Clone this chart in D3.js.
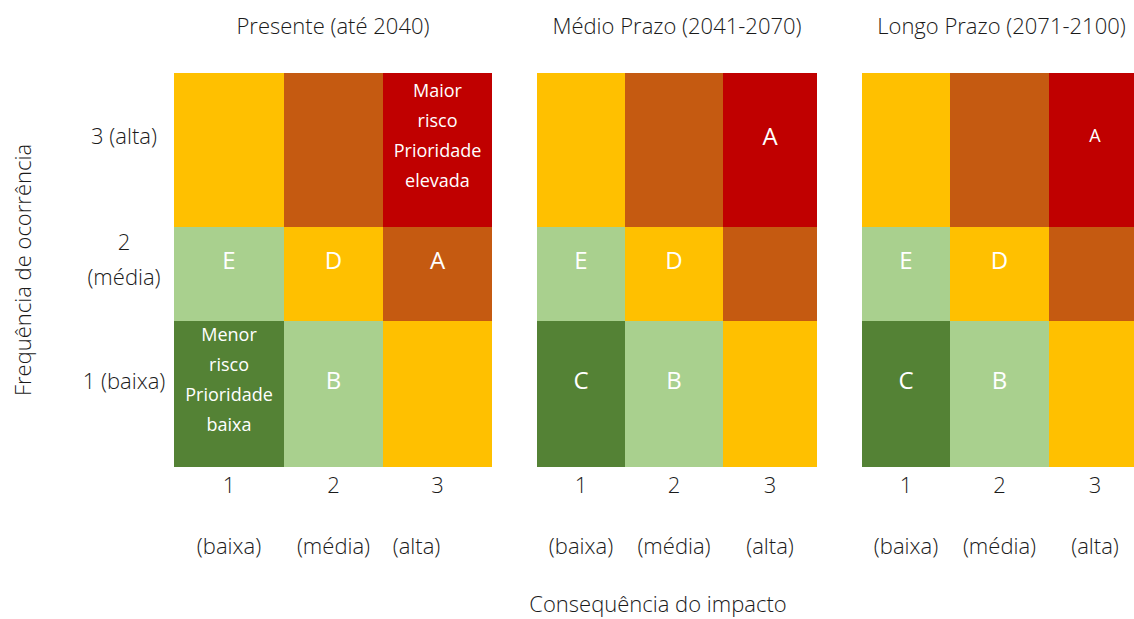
<!DOCTYPE html>
<html>
<head>
<meta charset="utf-8">
<script src="https://cdn.jsdelivr.net/npm/d3@7"></script>
<style>
  body { margin: 0; background: #fff; }
  svg { font-family: 'Open Sans', sans-serif; }
</style>
</head>
<body>
<svg id="chart" width="1134" height="619"></svg>
<script>
// data
const panelTitles = ['Presente (até 2040)', 'Médio Prazo (2041-2070)', 'Longo Prazo (2071-2100)']
const freqLevels = [1, 2, 3]
const freqLabels = [['1 (baixa)'], ['2', '(média)'], ['3 (alta)']]
const impactLevels = [1, 2, 3]
const impactNumbers = ['1', '2', '3']
const impactNames = ['(baixa)', '(média)', '(alta)']

// risk class per cell, rows from freq 1 to 3, cols impact 1 to 3
const riskGrid = [
  ['muito baixo', 'baixo', 'medio'],
  ['baixo', 'medio', 'alto'],
  ['medio', 'alto', 'muito alto']
]

// cell labels per panel (same row/col order as riskGrid)
const presenteLabels = [
  [['Menor', 'risco', 'Prioridade', 'baixa'], ['B'], []],
  [['E'], ['D'], ['A']],
  [[], [], ['Maior', 'risco', 'Prioridade', 'elevada']]
]
const medioLabels = [
  [['C'], ['B'], []],
  [['E'], ['D'], []],
  [[], [], ['A']]
]
const longoLabels = [
  [['C'], ['B'], []],
  [['E'], ['D'], []],
  [[], [], ['A']]
]
const panelLabels = [presenteLabels, medioLabels, longoLabels]

let colors = d3.scaleOrdinal()
  .domain(['muito baixo', 'baixo', 'medio', 'alto', 'muito alto'])
  .range(['#548235', '#A9D08E', '#FFC000', '#C55A11', '#C00000'])

// layout (cell edges are uneven, like the original table)
let panelEdges = [
  [174, 284, 383, 492],
  [537, 625, 723, 817],
  [862, 950, 1049, 1141]
]
let yScale = d3.scaleLinear().domain([0, 1, 2, 3]).range([467, 321, 227, 73])

let svg = d3.select('#chart')
let textColor = '#1a1a1a'
let labelSize = 22

panelTitles.forEach((title, p) => {
  let xScale = d3.scaleLinear().domain([0, 1, 2, 3]).range(panelEdges[p])
  let g = svg.append('g').attr('class', 'panel')

  let cells = []
  freqLevels.forEach((f, r) => {
    impactLevels.forEach((c, k) => {
      cells.push({ freq: f, impact: c, risk: riskGrid[r][k], label: panelLabels[p][r][k] })
    })
  })

  g.selectAll('.cell')
    .data(cells)
    .enter()
    .append('rect')
    .attr('class', 'cell')
    .attr('x', d => xScale(d.impact - 1))
    .attr('y', d => yScale(d.freq))
    .attr('width', d => xScale(d.impact) - xScale(d.impact - 1))
    .attr('height', d => yScale(d.freq - 1) - yScale(d.freq))
    .attr('fill', d => colors(d.risk))

  // white labels inside cells
  cells.filter(d => d.label.length > 0).forEach(d => {
    let cx = (xScale(d.impact - 1) + xScale(d.impact)) / 2
    let cy = (yScale(d.freq - 1) + yScale(d.freq)) / 2 - 15
    let multi = d.label.length > 1
    let size = multi ? 18 : (p === 2 && d.freq === 3 ? 18 : 24)
    let step = 30
    g.append('text')
      .attr('text-anchor', 'middle')
      .attr('fill', '#fff')
      .attr('font-size', size)
      .selectAll('tspan')
      .data(d.label)
      .enter()
      .append('tspan')
      .attr('x', cx)
      .attr('y', (t, i) => cy + (i - (d.label.length - 1) / 2) * step)
      .attr('dominant-baseline', 'central')
      .text(t => t)
  })

  // panel title
  g.append('text')
    .text(title)
    .attr('x', (panelEdges[p][0] + panelEdges[p][3]) / 2)
    .attr('y', 25)
    .attr('dominant-baseline', 'central')
    .attr('text-anchor', 'middle')
    .attr('font-size', labelSize)
    .attr('font-weight', 300)
    .attr('fill', textColor)

  // impact tick labels
  g.selectAll('.impact-num')
    .data(impactLevels)
    .enter()
    .append('text')
    .text((d, i) => impactNumbers[i])
    .attr('x', d => (xScale(d - 1) + xScale(d)) / 2)
    .attr('y', 484)
    .attr('dominant-baseline', 'central')
    .attr('text-anchor', 'middle')
    .attr('font-size', labelSize)
    .attr('font-weight', 300)
    .attr('fill', textColor)

  g.selectAll('.impact-name')
    .data(impactLevels)
    .enter()
    .append('text')
    .text((d, i) => impactNames[i])
    .attr('x', d => (xScale(d - 1) + xScale(d)) / 2 - (p === 0 && d === 3 ? 21 : 0))
    .attr('y', 545)
    .attr('dominant-baseline', 'central')
    .attr('text-anchor', 'middle')
    .attr('font-size', labelSize)
    .attr('font-weight', 300)
    .attr('fill', textColor)
})

// frequency labels on the left
let freqOffsets = { 1: [-14], 2: [-33, 2], 3: [-15] }
freqLevels.forEach((f, i) => {
  let cy = (yScale(f - 1) + yScale(f)) / 2
  svg.append('text')
    .attr('text-anchor', 'middle')
    .attr('font-size', labelSize)
    .attr('font-weight', 300)
    .attr('fill', textColor)
    .selectAll('tspan')
    .data(freqLabels[i])
    .enter()
    .append('tspan')
    .attr('x', 124)
    .attr('y', (t, j) => cy + freqOffsets[f][j])
    .attr('dominant-baseline', 'central')
    .text(t => t)
})

// axis titles
svg.append('text')
  .text('Frequência de ocorrência')
  .attr('transform', 'translate(22,270) rotate(-90)')
  .attr('dominant-baseline', 'central')
  .attr('text-anchor', 'middle')
  .attr('font-size', labelSize)
  .attr('font-weight', 300)
  .attr('fill', textColor)

svg.append('text')
  .text('Consequência do impacto')
  .attr('x', 658)
  .attr('y', 603)
  .attr('dominant-baseline', 'central')
  .attr('text-anchor', 'middle')
  .attr('font-size', labelSize)
  .attr('font-weight', 300)
  .attr('fill', textColor)
</script>
</body>
</html>
